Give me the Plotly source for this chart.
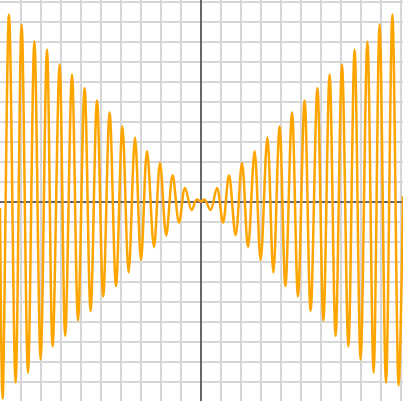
import plotly.graph_objects as go

# Extremes of the curve (x, y in axis units)
crest_x = [-9.60, -8.97, -8.33, -7.70, -7.07, -6.45, -5.82, -5.20, -4.57, -3.93,
           -3.30, -2.70, -2.05, -1.42, -0.80, -0.22,
           0.18, 0.80, 1.40, 2.05, 2.68, 3.32, 3.93, 4.55, 5.18, 5.82,
           6.43, 7.05, 7.68, 8.32, 8.93, 9.57]
crest_y = [9.37, 8.87, 8.04, 7.62, 6.87, 6.37, 5.70, 5.07, 4.48, 3.78,
           3.23, 2.54, 1.95, 1.34, 0.70, 0.12,
           0.12, 0.70, 1.34, 1.95, 2.54, 3.23, 3.78, 4.48, 5.08, 5.70,
           6.37, 6.87, 7.62, 8.03, 8.87, 9.37]
trough_x = [-9.92, -9.27, -8.65, -8.02, -7.42, -6.79, -6.15, -5.52, -4.89, -4.25,
            -3.62, -3.00, -2.35, -1.74, -1.10, -0.47,
            0.48, 1.10, 1.73, 2.35, 2.98, 3.62, 4.22, 4.85, 5.48, 6.12,
            6.73, 7.37, 7.98, 8.63, 9.25, 9.88]
trough_y = [-9.83, -9.03, -8.53, -7.88, -7.23, -6.70, -5.92, -5.45, -4.72, -4.20,
            -3.53, -2.90, -2.25, -1.67, -1.03, -0.40,
            -0.40, -1.03, -1.65, -2.25, -2.90, -3.53, -4.20, -4.72, -5.45, -5.92,
            -6.70, -7.23, -7.88, -8.53, -9.03, -9.17]
# curve ends and centre point
end_x = [-10.05, 0.0, 10.1]
end_y = [-0.3, 0.03, 0.3]

pts = sorted(zip(crest_x + trough_x + end_x, crest_y + trough_y + end_y))
xs = [p[0] for p in pts]
ys = [p[1] for p in pts]

fig = go.Figure()
fig.add_trace(go.Scatter(
    x=xs, y=ys, mode="lines",
    line=dict(color="#FFA500", width=2.5, shape="spline", smoothing=1.0),
    hoverinfo="skip", showlegend=False,
))

axis_common = dict(
    showgrid=True, gridcolor="#d6d6d6", gridwidth=2,
    zeroline=True, zerolinecolor="#666666", zerolinewidth=2,
    showticklabels=False, ticks="", dtick=1, tick0=0,
    showline=False, fixedrange=True,
)
fig.update_layout(
    width=403, height=401,
    margin=dict(l=0, r=0, t=0, b=0),
    paper_bgcolor="white", plot_bgcolor="white",
    xaxis=dict(range=[-10.05, 10.1], **axis_common),
    yaxis=dict(range=[-9.95, 10.1], **axis_common),
)
fig.write_html(
    "out.html",
    config={"displayModeBar": False},
    post_script="document.body.style.margin='0';document.body.style.overflow='hidden';",
)
